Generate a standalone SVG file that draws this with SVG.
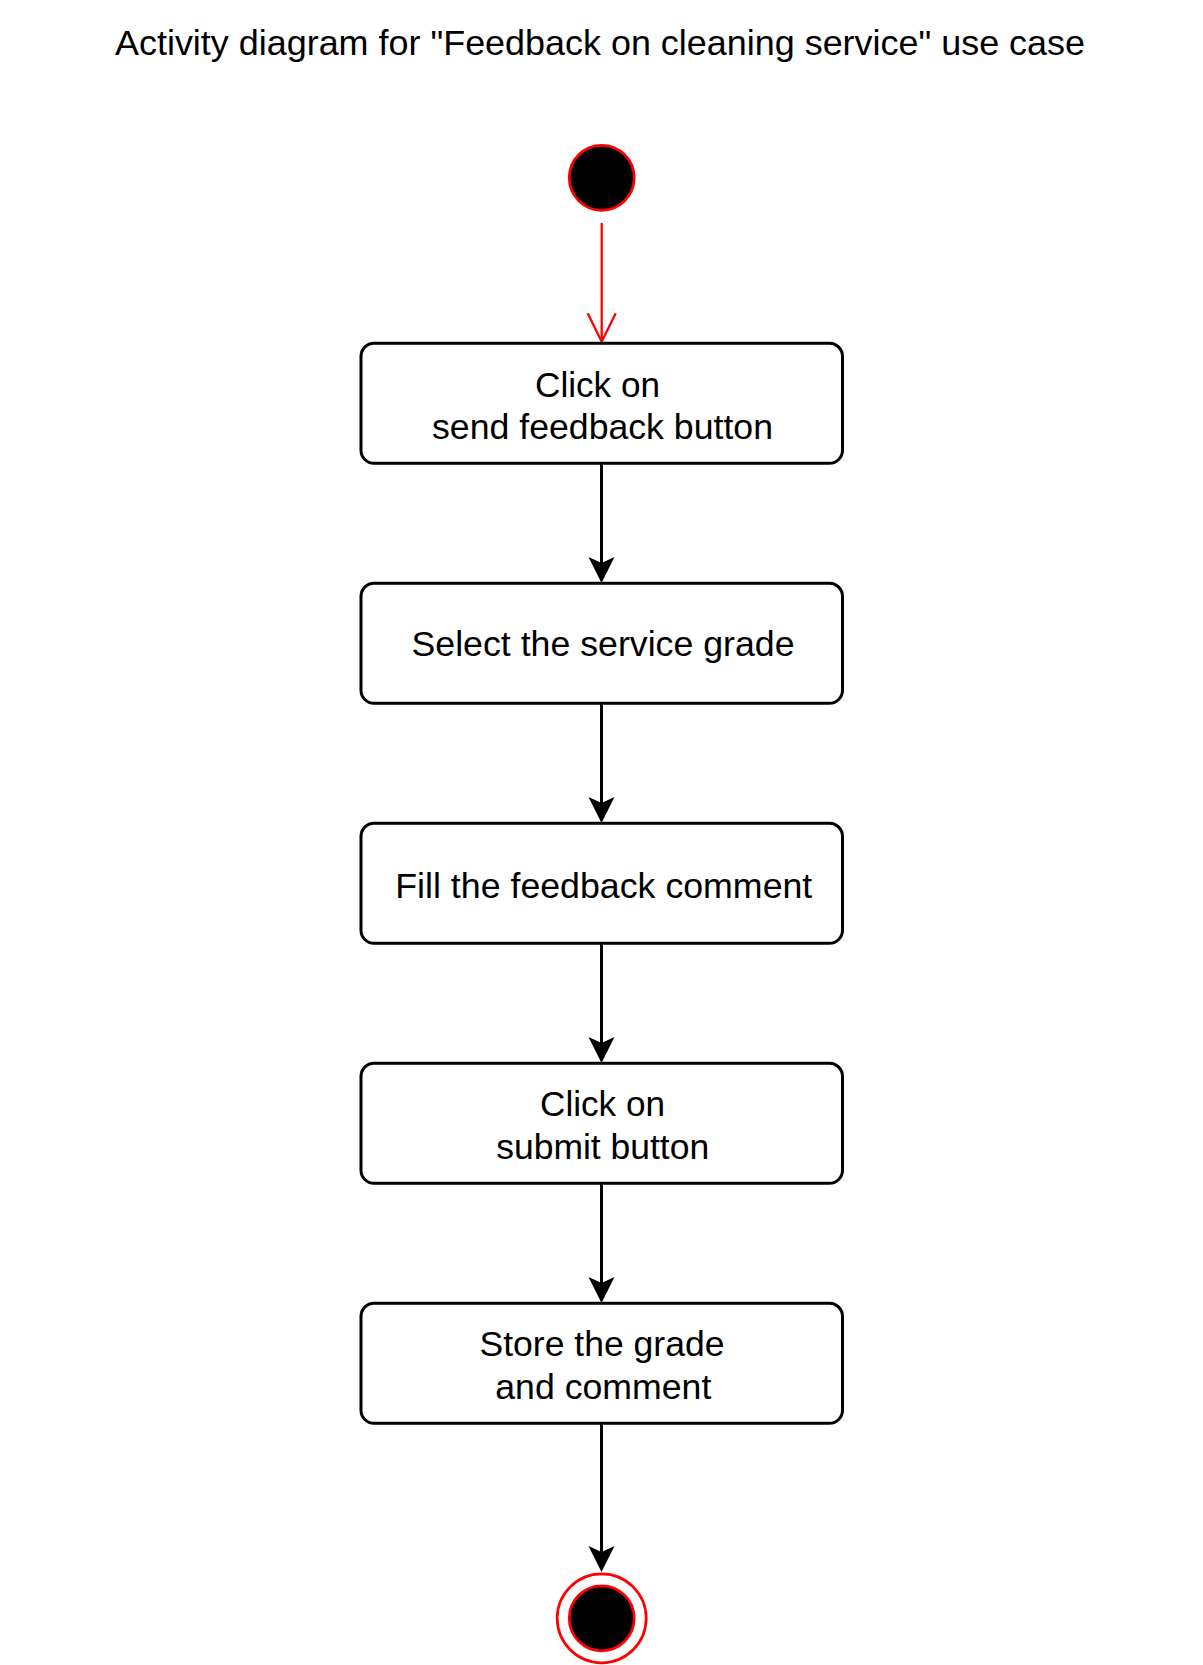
<svg xmlns="http://www.w3.org/2000/svg" width="1203" height="1665" viewBox="0 0 1203 1665">
  <style>
    text { font-family: "Liberation Sans", Arial, sans-serif; font-size: 35px; fill: #000; text-anchor: middle; }
    .box { fill: #fff; stroke: #000; stroke-width: 3; }
    .edge { stroke: #000; stroke-width: 3; fill: none; }
    .red { stroke: #ff0000; stroke-width: 2.3; fill: none; }
  </style>
  <rect width="1203" height="1665" fill="#fff"/>
  <text id="title" x="600" y="54.5" textLength="970" lengthAdjust="spacingAndGlyphs">Activity diagram for "Feedback on cleaning service" use case</text>

  <g id="connectors">
    <line class="red" x1="601.7" y1="223" x2="601.7" y2="341"/>
    <polyline class="red" points="587.7,313.3 601.7,341.7 615.7,313.3"/>
    <g id="e1">
      <line class="edge" x1="601.5" y1="463" x2="601.5" y2="570"/>
      <path d="M601.5,583 L588.5,557 L601.5,563 L614.5,557 Z" fill="#000"/>
    </g>
    <g id="e2">
      <line class="edge" x1="601.5" y1="703" x2="601.5" y2="810"/>
      <path d="M601.5,823 L588.5,797 L601.5,803 L614.5,797 Z" fill="#000"/>
    </g>
    <g id="e3">
      <line class="edge" x1="601.5" y1="943" x2="601.5" y2="1050"/>
      <path d="M601.5,1063 L588.5,1037 L601.5,1043 L614.5,1037 Z" fill="#000"/>
    </g>
    <g id="e4">
      <line class="edge" x1="601.5" y1="1183" x2="601.5" y2="1290"/>
      <path d="M601.5,1303 L588.5,1277 L601.5,1283 L614.5,1277 Z" fill="#000"/>
    </g>
    <g id="e5">
      <line class="edge" x1="601.5" y1="1423" x2="601.5" y2="1560"/>
      <path d="M601.5,1572 L588.5,1546 L601.5,1552 L614.5,1546 Z" fill="#000"/>
    </g>
  </g>

  <g id="start">
    <circle cx="601.7" cy="177.8" r="32.5" fill="#000" stroke="#ff0000" stroke-width="2.7"/>
  </g>

  <g id="n1">
    <rect class="box" x="361" y="343.3" width="481.5" height="120" rx="13" ry="13"/>
    <text x="597.5" y="396.5" textLength="125" lengthAdjust="spacingAndGlyphs">Click on</text>
    <text x="602.5" y="438.5" textLength="341" lengthAdjust="spacingAndGlyphs">send feedback button</text>
  </g>

  <g id="n2">
    <rect class="box" x="361" y="583.3" width="481.5" height="120" rx="13" ry="13"/>
    <text x="603" y="656" textLength="383" lengthAdjust="spacingAndGlyphs">Select the service grade</text>
  </g>

  <g id="n3">
    <rect class="box" x="361" y="823.3" width="481.5" height="120" rx="13" ry="13"/>
    <text x="603.8" y="897.5" textLength="417" lengthAdjust="spacingAndGlyphs">Fill the feedback comment</text>
  </g>

  <g id="n4">
    <rect class="box" x="361" y="1063.3" width="481.5" height="120" rx="13" ry="13"/>
    <text x="602.5" y="1115.5" textLength="125" lengthAdjust="spacingAndGlyphs">Click on</text>
    <text x="602.7" y="1158.5" textLength="213" lengthAdjust="spacingAndGlyphs">submit button</text>
  </g>

  <g id="n5">
    <rect class="box" x="361" y="1303.3" width="481.5" height="120" rx="13" ry="13"/>
    <text x="602" y="1355.5" textLength="245" lengthAdjust="spacingAndGlyphs">Store the grade</text>
    <text x="603.3" y="1398.5" textLength="216" lengthAdjust="spacingAndGlyphs">and comment</text>
  </g>

  <g id="end">
    <circle cx="601.7" cy="1618.3" r="44.5" fill="#fff" stroke="#ff0000" stroke-width="2.7"/>
    <circle cx="601.7" cy="1618.3" r="32.5" fill="#000" stroke="#ff0000" stroke-width="2.7"/>
  </g>
</svg>
